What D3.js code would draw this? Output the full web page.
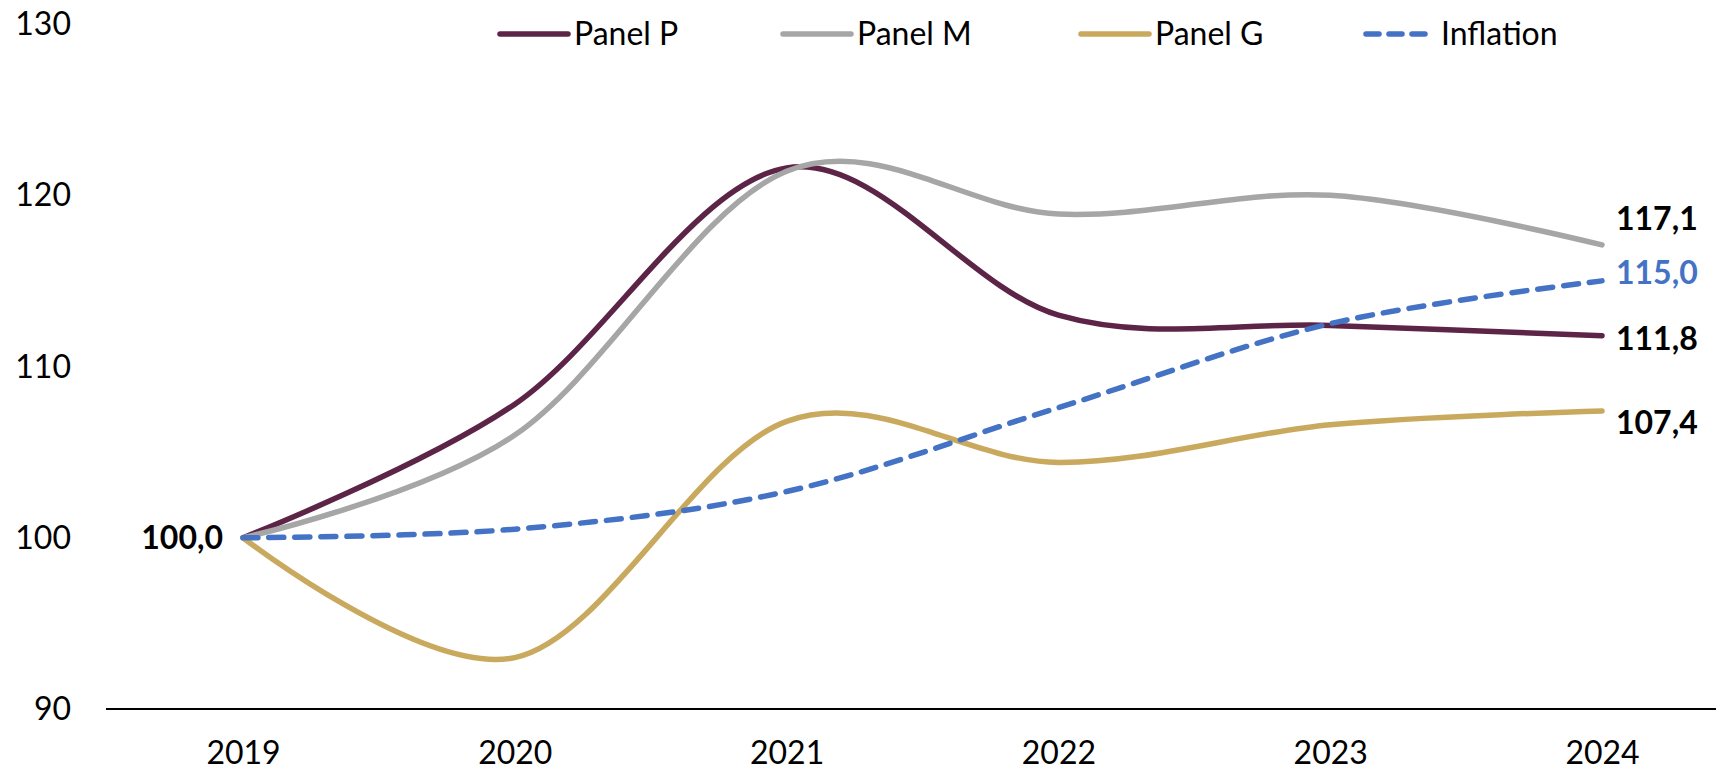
<!DOCTYPE html>
<html>
<head>
<meta charset="utf-8">
<script src="https://cdn.jsdelivr.net/npm/d3@7"></script>
<style>
  body { margin: 0; background: #fff; }
  svg text { font-family: Lato, "Open Sans", sans-serif; }
</style>
</head>
<body>
<div id="chart"></div>
<script>
const years = ["2019", "2020", "2021", "2022", "2023", "2024"];
const panelP = [100, 107.8, 121.6, 113.0, 112.4, 111.8];
const panelM = [100, 106.0, 121.4, 118.9, 120.0, 117.1];
const panelG = [100, 93.0, 106.8, 104.4, 106.6, 107.4];
const inflation = [100, 100.5, 102.7, 107.6, 112.5, 115.0];
const yTicks = [90, 100, 110, 120, 130];

const width = 1716, height = 771;
const fontSize = "32px";

const series = [
  { name: "Panel P", values: panelP, color: "#5C2547", dash: null, labelColor: "#000", dy: 3 },
  { name: "Panel M", values: panelM, color: "#A6A6A6", dash: null, labelColor: "#000", dy: -26 },
  { name: "Panel G", values: panelG, color: "#C9A95E", dash: null, labelColor: "#000", dy: 12 },
  { name: "Inflation", values: inflation, color: "#4472C4", dash: "15 11", labelColor: "#4472C4", dy: -8 }
];

const svg = d3.select("#chart").append("svg")
  .attr("width", width)
  .attr("height", height);

const x = d3.scalePoint().domain(years).range([243, 1602]);
const y = d3.scaleLinear().domain([90, 130]).range([709, 24]);

// y labels, no axis line
svg.selectAll(".ylab")
  .data(yTicks)
  .enter()
  .append("text")
  .attr("x", 71)
  .attr("y", d => y(d))
  .attr("dy", "0.35em")
  .style("text-anchor", "end")
  .style("font-size", fontSize)
  .text(d => d);

// x axis
const xAxis = d3.axisBottom(x).tickSize(0).tickPadding(32);
const gx = svg.append("g")
  .attr("transform", `translate(0, ${y(90)})`)
  .call(xAxis);
gx.select(".domain").attr("d", "M106,0H1716").attr("stroke", "#000").attr("stroke-width", 2);
gx.selectAll("text").style("font-size", fontSize).style("font-family", "Lato, sans-serif").attr("fill", "#000");

const line = d3.line()
  .x((d, i) => x(years[i]))
  .y(d => y(d))
  .curve(d3.curveCardinal.tension(0));

series.forEach(s => {
  svg.append("path")
    .datum(s.values)
    .attr("fill", "none")
    .attr("stroke", s.color)
    .attr("stroke-width", 5.5)
    .attr("stroke-linecap", "round")
    .attr("stroke-dasharray", s.dash)
    .attr("d", line);
});

// end labels
series.forEach(s => {
  const last = s.values[s.values.length - 1];
  svg.append("text")
    .attr("x", x(years[5]) + 14)
    .attr("y", y(last) + s.dy)
    .attr("dy", "0.35em")
    .style("font-size", fontSize)
    .style("font-weight", "bold")
    .attr("fill", s.labelColor)
    .text(d3.format(".1f")(last).replace(".", ","));
});

// start label
svg.append("text")
  .attr("x", x(years[0]) - 20)
  .attr("y", y(panelP[0]))
  .attr("dy", "0.35em")
  .style("text-anchor", "end")
  .style("font-size", fontSize)
  .style("font-weight", "bold")
  .text("100,0");

// legend
const legendX = [498, 781, 1079, 1364];
const legend = svg.append("g").attr("transform", "translate(0, 34)");
series.forEach((s, i) => {
  const g = legend.append("g").attr("transform", `translate(${legendX[i]}, 0)`);
  g.append("line")
    .attr("x1", 2).attr("x2", 70)
    .attr("stroke", s.color)
    .attr("stroke-width", 5.5)
    .attr("stroke-linecap", "round")
    .attr("stroke-dasharray", s.dash ? "13 10" : null);
  g.append("text")
    .attr("x", s.dash ? 77 : 76)
    .attr("dy", "0.35em")
    .style("font-size", fontSize)
    .text(s.name);
});
</script>
</body>
</html>
